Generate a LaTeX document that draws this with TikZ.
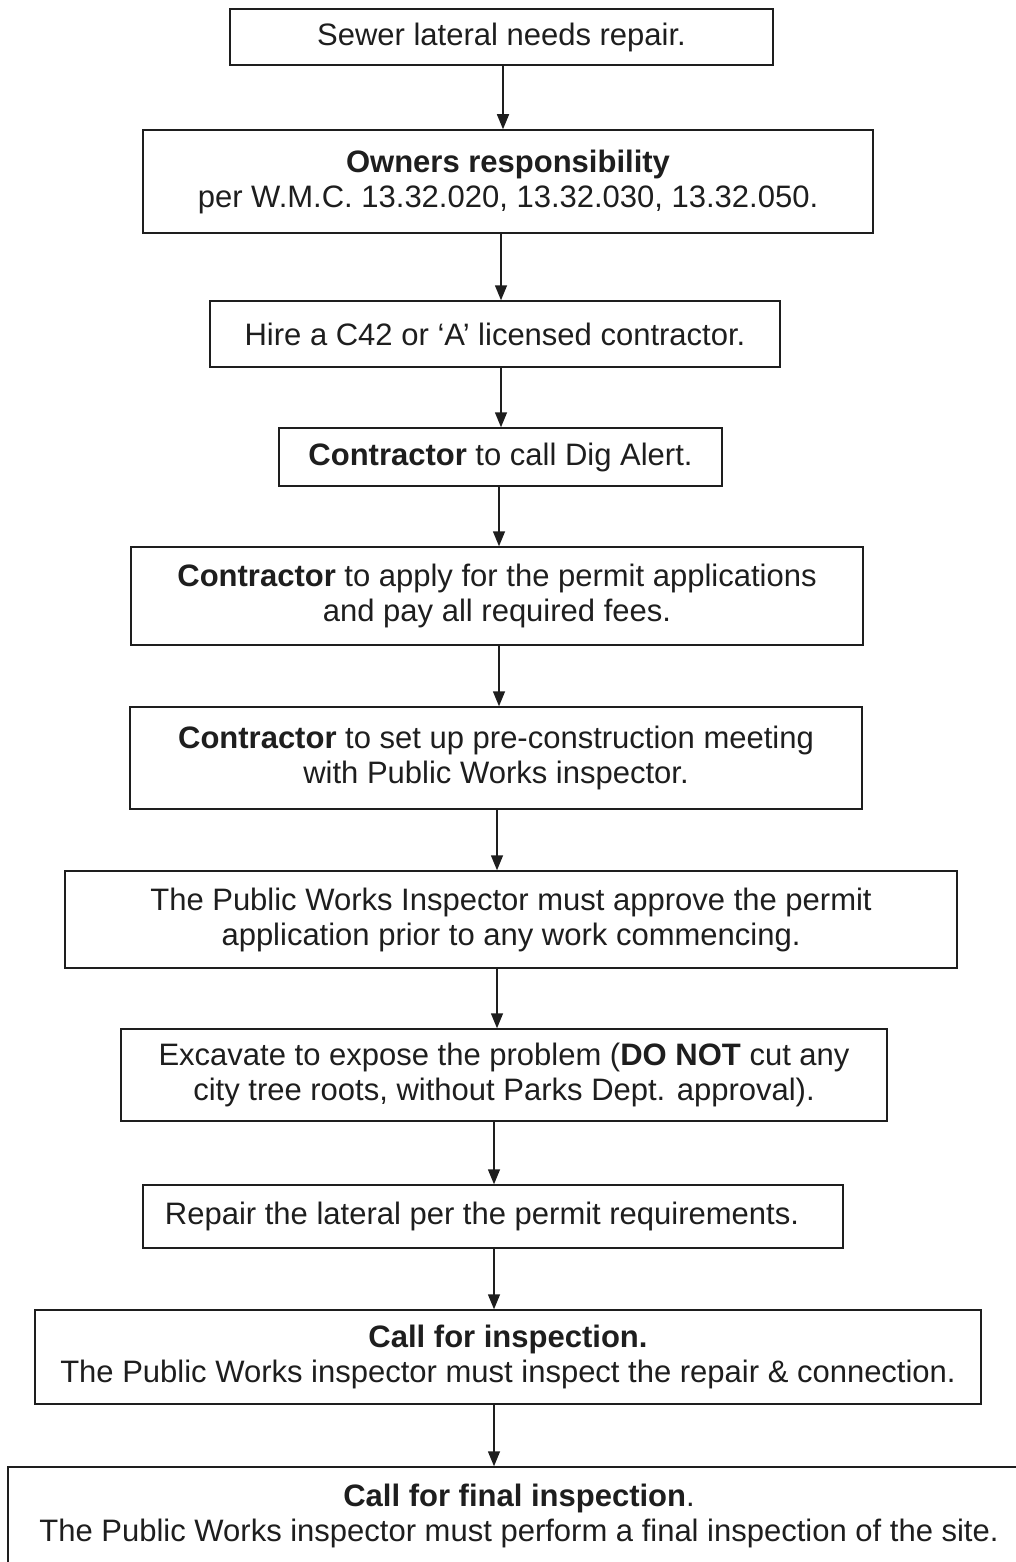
\documentclass[tikz,border=0pt]{standalone}
\usepackage{fontspec}
\setmainfont{Liberation Sans}
\usetikzlibrary{arrows.meta}
\definecolor{ink}{HTML}{1E1E1E}
\tikzset{
  box/.style={draw=ink, line width=1.5pt, rectangle, inner sep=0pt, align=center,
    text=ink, font=\fontsize{31}{35}\selectfont},
  arr/.style={draw=ink, line width=1.5pt, -{Triangle[width=12pt,length=15pt]}},
}
\begin{document}
\begin{tikzpicture}[x=1pt,y=-1pt]
\useasboundingbox[fill=white] (0,0) rectangle (1016,1562);
\node[box, minimum width=543pt, minimum height=56pt] (b1) at (501.5,37) {Sewer lateral needs repair.};
\node[box, minimum width=730pt, minimum height=103pt] (b2) at (508,181.5) {\textbf{Owners responsibility}\\per W.M.C. 13.32.020, 13.32.030, 13.32.050.};
\node[box, minimum width=570pt, minimum height=66pt] (b3) at (495,334) {Hire a C42 or ‘A’ licensed contractor.};
\node[box, minimum width=443pt, minimum height=58pt] (b4) at (500.5,457) {\textbf{Contractor} to call Dig Alert.};
\node[box, minimum width=732pt, minimum height=98pt] (b5) at (497,596) {\textbf{Contractor} to apply for the permit applications\\and pay all required fees.};
\node[box, minimum width=732pt, minimum height=102pt] (b6) at (496,758) {\textbf{Contractor} to set up pre-construction meeting\\with Public Works inspector.};
\node[box, minimum width=892pt, minimum height=97pt] (b7) at (511,919.5) {The Public Works Inspector must approve the permit\\application prior to any work commencing.};
\node[box, minimum width=766pt, minimum height=92pt] (b8) at (504,1075) {Excavate to expose the problem (\textbf{DO NOT} cut any\\city tree roots, without Parks Dept. approval).};
\node[box, minimum width=700pt, minimum height=63pt] (b9) at (493,1216.5) {Repair the lateral per the permit requirements.\hspace*{22pt}};
\node[box, minimum width=946pt, minimum height=94pt] (b10) at (508,1357) {\textbf{Call for inspection.}\\The Public Works inspector must inspect the repair \& connection.};
\node[box, minimum width=1022pt, minimum height=97pt] (b11) at (519,1515.5) {\textbf{Call for final inspection}.\\The Public Works inspector must perform a final inspection of the site.};
\coordinate (x1) at (503,0);
\coordinate (x2) at (501,0);
\coordinate (x3) at (501,0);
\coordinate (x4) at (499,0);
\coordinate (x5) at (499,0);
\coordinate (x6) at (497,0);
\coordinate (x7) at (497,0);
\coordinate (x8) at (494,0);
\coordinate (x9) at (494,0);
\coordinate (x10) at (494,0);
\draw[arr] (b1.south -| x1) -- (b2.north -| x1);
\draw[arr] (b2.south -| x2) -- (b3.north -| x2);
\draw[arr] (b3.south -| x3) -- (b4.north -| x3);
\draw[arr] (b4.south -| x4) -- (b5.north -| x4);
\draw[arr] (b5.south -| x5) -- (b6.north -| x5);
\draw[arr] (b6.south -| x6) -- (b7.north -| x6);
\draw[arr] (b7.south -| x7) -- (b8.north -| x7);
\draw[arr] (b8.south -| x8) -- (b9.north -| x8);
\draw[arr] (b9.south -| x9) -- (b10.north -| x9);
\draw[arr] (b10.south -| x10) -- (b11.north -| x10);
\end{tikzpicture}
\end{document}
